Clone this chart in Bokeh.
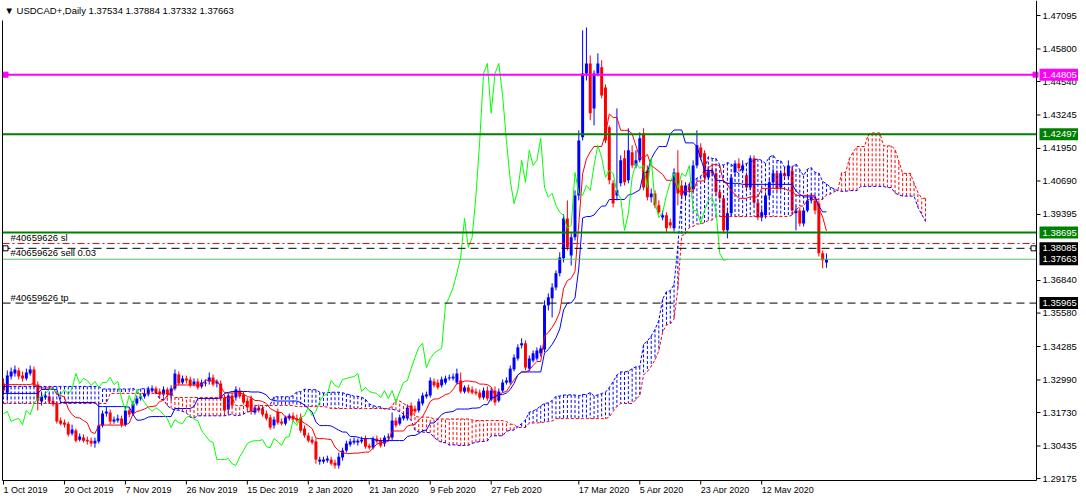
import numpy as np
from bokeh.plotting import figure
from bokeh.models import Range1d
from bokeh.core.properties import value
from bokeh.embed import file_html
from bokeh.resources import INLINE

FONT = "Liberation Sans"

TITLE = "\u25BC  USDCAD+,Daily  1.37534 1.37884 1.37332 1.37663"

date_labels = ["1 Oct 2019", "20 Oct 2019", "7 Nov 2019", "26 Nov 2019", "15 Dec 2019",
               "2 Jan 2020", "21 Jan 2020", "9 Feb 2020", "27 Feb 2020", "17 Mar 2020",
               "5 Apr 2020", "23 Apr 2020", "12 May 2020"]
date_bars = [0, 16, 32, 48, 64, 80, 96, 112, 128, 151, 167, 183, 199]

price_ticks = [1.47095, 1.45800, 1.44540, 1.43245, 1.41950, 1.40690, 1.39395,
               1.36840, 1.35580, 1.34285, 1.32990, 1.31730, 1.30435, 1.29175]

open_ = [1.3285, 1.3250, 1.3312, 1.3324, 1.3336, 1.3316, 1.3305, 1.3324, 1.3340, 1.3281,
         1.3216, 1.3231, 1.3235, 1.3219, 1.3208, 1.3142, 1.3134, 1.3130, 1.3092, 1.3103,
         1.3068, 1.3076, 1.3068, 1.3064, 1.3053, 1.3061, 1.3123, 1.3169, 1.3173, 1.3138,
         1.3142, 1.3150, 1.3126, 1.3181, 1.3169, 1.3208, 1.3227, 1.3235, 1.3243, 1.3258,
         1.3266, 1.3254, 1.3243, 1.3262, 1.3239, 1.3266, 1.3320, 1.3289, 1.3305, 1.3301,
         1.3281, 1.3293, 1.3274, 1.3285, 1.3293, 1.3309, 1.3285, 1.3285, 1.3231, 1.3185,
         1.3239, 1.3231, 1.3258, 1.3243, 1.3219, 1.3227, 1.3173, 1.3192, 1.3188, 1.3169,
         1.3154, 1.3123, 1.3177, 1.3138, 1.3130, 1.3150, 1.3161, 1.3150, 1.3154, 1.3111,
         1.3084, 1.3068, 1.3061, 1.2983, 1.2983, 1.2987, 1.2991, 1.2979, 1.2968, 1.2999,
         1.3026, 1.3049, 1.3057, 1.3057, 1.3061, 1.3072, 1.3045, 1.3037, 1.3072, 1.3064,
         1.3053, 1.3076, 1.3076, 1.3142, 1.3130, 1.3150, 1.3150, 1.3200, 1.3188, 1.3181,
         1.3208, 1.3235, 1.3239, 1.3293, 1.3289, 1.3278, 1.3289, 1.3305, 1.3305, 1.3289,
         1.3297, 1.3254, 1.3270, 1.3262, 1.3254, 1.3250, 1.3231, 1.3258, 1.3223, 1.3258,
         1.3219, 1.3258, 1.3289, 1.3289, 1.3340, 1.3382, 1.3433, 1.3441, 1.3343, 1.3374,
         1.3382, 1.3402, 1.3417, 1.3588, 1.3615, 1.3657, 1.3712, 1.3770, 1.3924, 1.3781,
         1.3851, 1.4013, 1.4238, 1.4485, 1.4524, 1.4350, 1.4485, 1.4509, 1.4431, 1.4277,
         1.4060, 1.4013, 1.4060, 1.4157, 1.4072, 1.4180, 1.4129, 1.4149, 1.4253, 1.4110,
         1.4006, 1.4021, 1.3975, 1.3928, 1.3936, 1.3909, 1.3886, 1.4102, 1.4052, 1.4013,
         1.4048, 1.4037, 1.4129, 1.4199, 1.4176, 1.4083, 1.4110, 1.4099, 1.4025, 1.4002,
         1.3878, 1.3944, 1.4102, 1.4137, 1.4110, 1.4091, 1.4044, 1.4157, 1.3986, 1.3928,
         1.3936, 1.4013, 1.4064, 1.4099, 1.4044, 1.4099, 1.4087, 1.4110, 1.3944, 1.3955,
         1.3905, 1.3955, 1.3994, 1.3994, 1.3982, 1.3789, 1.37534]

high = [1.3305, 1.3336, 1.3347, 1.3355, 1.3347, 1.3332, 1.3343, 1.3355, 1.3351, 1.3293,
        1.3247, 1.3250, 1.3247, 1.3227, 1.3216, 1.3154, 1.3146, 1.3138, 1.3126, 1.3111,
        1.3092, 1.3088, 1.3080, 1.3076, 1.3076, 1.3212, 1.3181, 1.3196, 1.3185, 1.3157,
        1.3165, 1.3161, 1.3196, 1.3192, 1.3219, 1.3239, 1.3247, 1.3258, 1.3274, 1.3278,
        1.3274, 1.3266, 1.3274, 1.3270, 1.3278, 1.3340, 1.3332, 1.3316, 1.3316, 1.3312,
        1.3305, 1.3305, 1.3301, 1.3301, 1.3328, 1.3320, 1.3301, 1.3297, 1.3243, 1.3247,
        1.3250, 1.3274, 1.3270, 1.3254, 1.3231, 1.3239, 1.3200, 1.3204, 1.3200, 1.3181,
        1.3165, 1.3157, 1.3188, 1.3150, 1.3161, 1.3169, 1.3173, 1.3165, 1.3169, 1.3123,
        1.3095, 1.3080, 1.3072, 1.3002, 1.3002, 1.3006, 1.3002, 1.2991, 1.3018, 1.3037,
        1.3064, 1.3072, 1.3076, 1.3072, 1.3080, 1.3084, 1.3053, 1.3080, 1.3084, 1.3076,
        1.3084, 1.3092, 1.3173, 1.3154, 1.3165, 1.3173, 1.3204, 1.3212, 1.3200, 1.3227,
        1.3250, 1.3254, 1.3309, 1.3305, 1.3301, 1.3312, 1.3316, 1.3320, 1.3324, 1.3343,
        1.3328, 1.3278, 1.3281, 1.3274, 1.3266, 1.3262, 1.3270, 1.3274, 1.3270, 1.3274,
        1.3266, 1.3301, 1.3309, 1.3355, 1.3398, 1.3437, 1.3460, 1.3452, 1.3394, 1.3413,
        1.3425, 1.3433, 1.3607, 1.3634, 1.3673, 1.3723, 1.3793, 1.3940, 1.3994, 1.3866,
        1.4033, 1.4265, 1.4652, 1.4663, 1.4555, 1.4497, 1.4563, 1.4536, 1.4443, 1.4284,
        1.4072, 1.4350, 1.4168, 1.4188, 1.4273, 1.4207, 1.4188, 1.4257, 1.4273, 1.4129,
        1.4040, 1.4033, 1.3994, 1.3955, 1.3948, 1.3924, 1.4118, 1.4188, 1.4072, 1.4064,
        1.4064, 1.4149, 1.4265, 1.4215, 1.4188, 1.4126, 1.4129, 1.4118, 1.4040, 1.4013,
        1.3955, 1.4095, 1.4149, 1.4157, 1.4149, 1.4102, 1.4168, 1.4168, 1.3998, 1.3963,
        1.4025, 1.4079, 1.4118, 1.4110, 1.4110, 1.4118, 1.4149, 1.4129, 1.3971, 1.3967,
        1.3967, 1.4009, 1.4021, 1.4006, 1.3994, 1.3800, 1.37884]

low = [1.3239, 1.3219, 1.3301, 1.3312, 1.3301, 1.3293, 1.3297, 1.3316, 1.3270, 1.3181,
       1.3200, 1.3223, 1.3208, 1.3196, 1.3130, 1.3123, 1.3115, 1.3080, 1.3084, 1.3057,
       1.3061, 1.3057, 1.3049, 1.3041, 1.3037, 1.3053, 1.3115, 1.3157, 1.3126, 1.3130,
       1.3134, 1.3115, 1.3119, 1.3154, 1.3161, 1.3200, 1.3219, 1.3227, 1.3235, 1.3250,
       1.3243, 1.3235, 1.3235, 1.3231, 1.3219, 1.3258, 1.3278, 1.3281, 1.3285, 1.3270,
       1.3274, 1.3262, 1.3266, 1.3274, 1.3281, 1.3274, 1.3270, 1.3219, 1.3173, 1.3169,
       1.3192, 1.3219, 1.3227, 1.3204, 1.3185, 1.3165, 1.3165, 1.3173, 1.3157, 1.3142,
       1.3107, 1.3111, 1.3126, 1.3123, 1.3123, 1.3142, 1.3138, 1.3134, 1.3095, 1.3076,
       1.3057, 1.3049, 1.2975, 1.2971, 1.2975, 1.2979, 1.2968, 1.2956, 1.2956, 1.2987,
       1.3018, 1.3041, 1.3049, 1.3045, 1.3053, 1.3033, 1.3030, 1.3030, 1.3053, 1.3037,
       1.3041, 1.3064, 1.3064, 1.3115, 1.3123, 1.3142, 1.3142, 1.3154, 1.3169, 1.3173,
       1.3200, 1.3227, 1.3231, 1.3270, 1.3262, 1.3270, 1.3281, 1.3297, 1.3297, 1.3281,
       1.3247, 1.3247, 1.3247, 1.3243, 1.3239, 1.3223, 1.3223, 1.3219, 1.3216, 1.3200,
       1.3212, 1.3250, 1.3281, 1.3281, 1.3332, 1.3374, 1.3421, 1.3336, 1.3332, 1.3367,
       1.3374, 1.3390, 1.3406, 1.3568, 1.3541, 1.3646, 1.3700, 1.3754, 1.3800, 1.3742,
       1.3839, 1.3994, 1.4226, 1.4458, 1.4304, 1.4284, 1.4474, 1.4389, 1.4215, 1.4056,
       1.3967, 1.3994, 1.4048, 1.4052, 1.4060, 1.4118, 1.4118, 1.4141, 1.4033, 1.3994,
       1.3986, 1.3963, 1.3940, 1.3917, 1.3870, 1.3886, 1.3874, 1.3975, 1.3998, 1.4002,
       1.4021, 1.4025, 1.4118, 1.4149, 1.4072, 1.4072, 1.4087, 1.4013, 1.3990, 1.3866,
       1.3847, 1.3932, 1.4087, 1.4106, 1.4102, 1.4033, 1.4033, 1.3975, 1.3917, 1.3913,
       1.3924, 1.4002, 1.4052, 1.4029, 1.4033, 1.4075, 1.4079, 1.3940, 1.3878, 1.3893,
       1.3893, 1.3948, 1.3982, 1.3940, 1.3777, 1.3731, 1.37332]

close_ = [1.3258, 1.3316, 1.3332, 1.3340, 1.3312, 1.3305, 1.3328, 1.3340, 1.3278, 1.3219,
          1.3235, 1.3239, 1.3216, 1.3204, 1.3138, 1.3130, 1.3126, 1.3088, 1.3107, 1.3064,
          1.3080, 1.3064, 1.3061, 1.3053, 1.3064, 1.3123, 1.3169, 1.3177, 1.3138, 1.3146,
          1.3150, 1.3126, 1.3181, 1.3165, 1.3208, 1.3227, 1.3235, 1.3247, 1.3262, 1.3266,
          1.3250, 1.3243, 1.3262, 1.3243, 1.3266, 1.3324, 1.3285, 1.3305, 1.3297, 1.3278,
          1.3293, 1.3270, 1.3289, 1.3289, 1.3309, 1.3281, 1.3293, 1.3227, 1.3181, 1.3239,
          1.3200, 1.3262, 1.3235, 1.3212, 1.3192, 1.3177, 1.3192, 1.3181, 1.3165, 1.3150,
          1.3115, 1.3146, 1.3134, 1.3130, 1.3154, 1.3161, 1.3146, 1.3142, 1.3103, 1.3084,
          1.3064, 1.3057, 1.2991, 1.2991, 1.2991, 1.2995, 1.2975, 1.2968, 1.3002, 1.3026,
          1.3053, 1.3061, 1.3064, 1.3064, 1.3068, 1.3041, 1.3037, 1.3072, 1.3061, 1.3045,
          1.3076, 1.3080, 1.3142, 1.3123, 1.3154, 1.3161, 1.3192, 1.3161, 1.3177, 1.3216,
          1.3239, 1.3243, 1.3297, 1.3278, 1.3270, 1.3301, 1.3305, 1.3309, 1.3312, 1.3324,
          1.3254, 1.3270, 1.3254, 1.3250, 1.3247, 1.3231, 1.3258, 1.3227, 1.3258, 1.3212,
          1.3254, 1.3289, 1.3297, 1.3343, 1.3386, 1.3425, 1.3441, 1.3347, 1.3382, 1.3402,
          1.3413, 1.3421, 1.3588, 1.3619, 1.3657, 1.3712, 1.3773, 1.3924, 1.3812, 1.3851,
          1.4013, 1.4226, 1.4485, 1.4524, 1.4331, 1.4485, 1.4524, 1.4400, 1.4226, 1.4072,
          1.3982, 1.4033, 1.4149, 1.4064, 1.4188, 1.4129, 1.4149, 1.4234, 1.4044, 1.4006,
          1.4021, 1.3975, 1.3948, 1.3936, 1.3886, 1.3897, 1.4102, 1.4021, 1.4013, 1.4052,
          1.4033, 1.4129, 1.4207, 1.4160, 1.4083, 1.4110, 1.4099, 1.4025, 1.4002, 1.3878,
          1.3944, 1.4083, 1.4137, 1.4118, 1.4129, 1.4044, 1.4157, 1.3986, 1.3928, 1.3948,
          1.4013, 1.4064, 1.4099, 1.4040, 1.4099, 1.4087, 1.4129, 1.3955, 1.3955, 1.3905,
          1.3955, 1.3994, 1.4006, 1.3955, 1.3789, 1.3762, 1.37663]

# indicator values before the first visible bar
tenkan_pre = [1.3281] * 8
kijun_pre = [1.3247] * 10 + [1.3262] * 5 + [1.3212] * 10
span_a_pre = [1.3274] * 26
span_b_pre = [1.3208] * 28 + [1.3247] * 17 + [1.3231] * 16 + [1.3200] * 16

# chart objects
magenta_level = 1.44805
green_levels = [1.42497, 1.38695]
sl_level = 1.3827
entry_level = 1.38085
bid_level = 1.37663
tp_level = 1.35965
order_texts = ["#40659626 sl", "#40659626 sell 0.03", "#40659626 tp"]
order_text_levels = [1.3851, 1.3793, 1.3619]
tags = [("1.44805", 1.44805, "#FF00FF"), ("1.42497", 1.42497, "#008000"),
        ("1.38695", 1.38695, "#008000"), ("1.38085", 1.38085, "#000000"),
        ("1.37663", 1.37663, "#000000"), ("1.35965", 1.35965, "#000000")]

# ---- layout helpers (pixel -> data) ----
BAR_PX = 3.81
X0_PX = 3.0
def bx(px):
    return (px - X0_PX) / BAR_PX
def py(ypx):
    return 1.47095 - (ypx - 15.0) / 2584.0
PX = 1.0 / 2584.0

W, H = 1078, 493
AXIS_X = 1036
AXIS_Y = 480
LAB_FS = "9.5px"

o = np.array(open_); h = np.array(high); l = np.array(low); c = np.array(close_)
n = len(c)
idx = np.arange(n)

def mid(i, w):
    return (h[i - w + 1:i + 1].max() + l[i - w + 1:i + 1].min()) / 2.0

tenkan = np.array([tenkan_pre[i] if i < 8 else mid(i, 9) for i in range(n)])
kijun = np.array([kijun_pre[i] if i < 25 else mid(i, 26) for i in range(n)])
span_a = np.array([span_a_pre[j] if j < 26 else (tenkan[j - 26] + kijun[j - 26]) / 2.0
                   for j in range(n + 26)])
span_b = np.array([span_b_pre[j] if j < 77 else mid(j - 26, 52) for j in range(n + 26)])
sidx = np.arange(n + 26)

p = figure(frame_width=W, frame_height=H,
           x_range=Range1d(bx(0), bx(W)), y_range=Range1d(py(H), py(0)),
           output_backend="svg", toolbar_location=None,
           x_axis_location=None, y_axis_location=None,
           min_border=0)
p.background_fill_color = "white"
p.border_fill_color = "white"
p.outline_line_color = None
p.xgrid.visible = False
p.ygrid.visible = False

RED = "#FF0000"
BLUE = "#0000FF"

# candles
col = np.where(c >= o, BLUE, RED)
top = np.maximum(o, c)
bot = np.minimum(o, c)
thin = (top - bot) < 0.00008
top = np.where(thin, top + 0.00004, top)
bot = np.where(thin, bot - 0.00004, bot)
p.segment(x0=idx, y0=l, x1=idx, y1=h, line_color=col, line_width=1)
p.vbar(x=idx, width=0.78, top=top, bottom=bot, fill_color=col, line_color=None)

# ichimoku: cloud hatch (red when span B above span A)
hcol = np.where(span_b > span_a, RED, BLUE)
p.segment(x0=sidx, y0=span_a, x1=sidx, y1=span_b, line_color=hcol, line_width=1, line_dash="3 2")
p.line(sidx, span_a, line_color=BLUE, line_width=1, line_dash="3 2")
p.line(sidx, span_b, line_color=RED, line_width=1, line_dash="3 2")
p.line(idx, tenkan, line_color=RED, line_width=1)
p.line(idx, kijun, line_color=BLUE, line_width=1)
p.line(idx[:n - 26], c[26:], line_color="#00FF00", line_width=1)

# horizontal objects
xl, xr = bx(2), bx(AXIS_X)
p.segment(x0=[xl], y0=[magenta_level], x1=[xr], y1=[magenta_level], line_color="#FF00FF", line_width=2)
p.segment(x0=[xl] * 2, y0=green_levels, x1=[xr] * 2, y1=green_levels, line_color="#008000", line_width=2)
p.segment(x0=[xl], y0=[sl_level], x1=[xr], y1=[sl_level], line_color=RED, line_width=1, line_dash="7 3 2 3")
p.segment(x0=[xl], y0=[entry_level], x1=[xr], y1=[entry_level], line_color="black", line_width=1, line_dash="8 5")
p.segment(x0=[xl], y0=[bid_level], x1=[xr], y1=[bid_level], line_color="#55C060", line_width=1)
p.segment(x0=[xl], y0=[tp_level], x1=[xr], y1=[tp_level], line_color="black", line_width=1, line_dash="8 5")
p.scatter([bx(5), bx(AXIS_X - 1)], [magenta_level] * 2, marker="square", size=5,
          fill_color="#FF00FF", line_color="#FF00FF")
p.scatter([bx(5), bx(AXIS_X - 3)], [entry_level] * 2, marker="square", size=5,
          fill_color="white", line_color="black")

# frame lines
p.segment(x0=[bx(2)], y0=[py(20)], x1=[bx(2)], y1=[py(AXIS_Y)], line_color="black", line_width=1)
p.segment(x0=[bx(AXIS_X)], y0=[py(0)], x1=[bx(AXIS_X)], y1=[py(AXIS_Y)], line_color="black", line_width=1)
p.segment(x0=[bx(2)], y0=[py(AXIS_Y)], x1=[bx(AXIS_X)], y1=[py(AXIS_Y)], line_color="black", line_width=1)

# price scale (right)
p.segment(x0=[bx(AXIS_X)] * len(price_ticks), y0=price_ticks,
          x1=[bx(AXIS_X + 4)] * len(price_ticks), y1=price_ticks, line_color="black", line_width=1)
p.text(x=[bx(AXIS_X + 6)] * len(price_ticks), y=price_ticks,
       text=["%.5f" % t for t in price_ticks], text_font=value(FONT),
       text_font_size=value(LAB_FS), text_align="left", text_baseline="middle", text_color="black")

# time scale (bottom)
p.segment(x0=date_bars, y0=[py(AXIS_Y)] * len(date_bars), x1=date_bars,
          y1=[py(AXIS_Y + 4)] * len(date_bars), line_color="black", line_width=1)
p.text(x=date_bars, y=[py(489)] * len(date_bars), text=date_labels, text_font=value(FONT),
       text_font_size=value("9px"), text_align="left", text_baseline="middle", text_color="black")

# price tags
tag_text = [t[0] for t in tags]
tag_lev = [t[1] for t in tags]
tag_col = [t[2] for t in tags]
p.quad(left=[bx(AXIS_X + 3)] * len(tags), right=[bx(W + 5)] * len(tags),
       top=[v + 6 * PX for v in tag_lev], bottom=[v - 6 * PX for v in tag_lev],
       fill_color=tag_col, line_color=None)
p.text(x=[bx(AXIS_X + 6)] * len(tags), y=tag_lev, text=tag_text, text_font=value(FONT),
       text_font_size=value(LAB_FS), text_align="left", text_baseline="middle", text_color="white")

# title and order labels
p.text(x=[bx(4)], y=[py(10)], text=[TITLE], text_font=value(FONT),
       text_font_size=value("9.5px"), text_align="left", text_baseline="middle", text_color="black")
p.text(x=[bx(10)] * 3, y=order_text_levels, text=order_texts, text_font=value(FONT),
       text_font_size=value("9.5px"), text_align="left", text_baseline="middle", text_color="black")

open("out.html", "w").write(file_html(p, INLINE))
